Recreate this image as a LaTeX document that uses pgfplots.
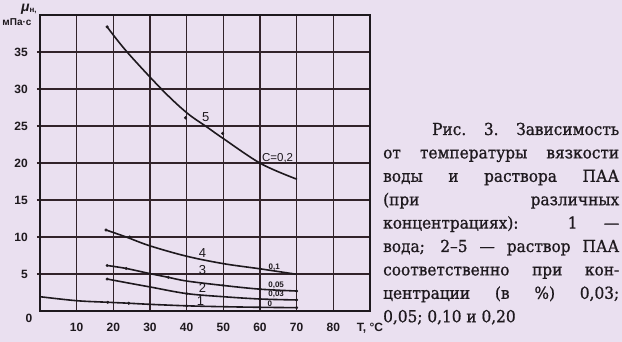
\documentclass[border=0pt]{standalone}
\usepackage{fontspec}
\setmainfont{Liberation Sans}
\newfontfamily\capfont[FakeStretch=0.93, FakeBold=0.9]{DejaVu Serif}
\usepackage{pgfplots}
\pgfplotsset{compat=1.18}
\definecolor{bg}{RGB}{234,224,240}
\definecolor{ink}{RGB}{30,25,30}
\definecolor{gridc}{RGB}{50,35,42}
\begin{document}
\begin{tikzpicture}[x=1pt,y=1pt]
\path[use as bounding box, fill=bg] (-40,-31) rectangle (582,311);
\begin{axis}[
  at={(0,0)}, anchor=south west,
  scale only axis, width=330pt, height=296pt,
  xmin=0, xmax=90, ymin=0, ymax=40,
  axis line style={ink, line width=1.3pt},
  xtick={10,20,...,90},
  xticklabels={10,20,30,40,50,60,70,80,{T, °C}},
  ytick={5,10,...,35},
  grid=major,
  major grid style={gridc, line width=1.2pt},
  major tick length=3pt,
  xtick style={draw=none},
  ytick style={gridc, line width=1.2pt, xshift=-3pt},
  ytick pos=left,
  /pgf/number format/assume math mode=true,
  ticklabel style={font=\bfseries\fontsize{12}{14}\selectfont, text=ink},
  xticklabel style={anchor=north, inner sep=0pt, yshift=-11.5pt},
  yticklabel style={anchor=east, inner sep=0pt, xshift=-12pt},
  clip=false,
]
% curve 5 (C=0,2)
\addplot[ink, line width=1.6pt, smooth, tension=0.55] coordinates {
 (18.3,38.4) (23.75,35.0) (33.3,29.9) (40,26.8) (45.7,24.8) (50,23.3) (60.3,19.9) (70.1,17.8)};
\addplot[only marks, mark=*, mark size=1.4pt, ink] coordinates {(18.3,38.4) (39.7,26.1) (49.8,24.0)};
% curve 4 (0,1)
\addplot[ink, line width=1.6pt, smooth, tension=0.55] coordinates {
 (18,10.95) (23.5,10.0) (30,8.8) (40,7.4) (50,6.4) (60,5.7) (70,4.96)};
\addplot[only marks, mark=*, mark size=1.3pt, ink] coordinates {(18,10.95) (24.5,10.0) (60,5.7)};
% curve 3 (0,05)
\addplot[ink, line width=1.6pt, smooth, tension=0.55] coordinates {
 (18.3,6.15) (23.5,5.75) (30,5.05) (35,4.55) (40,4.05) (50,3.45) (60,2.95) (70,2.7)};
\addplot[only marks, mark=*, mark size=1.3pt, ink] coordinates {(18.3,6.15) (23.5,5.75) (35,4.55) (50,3.45) (60,2.95) (70,2.7)};
% curve 2 (0,03)
\addplot[ink, line width=1.6pt, smooth, tension=0.55] coordinates {
 (18.3,4.32) (25,3.7) (30,3.25) (40,2.35) (50,1.93) (60,1.62) (70,1.49)};
\addplot[only marks, mark=*, mark size=1.3pt, ink] coordinates {(18.3,4.32) (40,2.35) (60,1.62) (70,1.49)};
% curve 1 (water)
\addplot[ink, line width=1.6pt, smooth, tension=0.55] coordinates {
 (0,1.93) (10,1.39) (18.5,1.18) (24.2,1.05) (30,0.9) (40,0.7) (50,0.58) (60,0.5) (70,0.45)};
\addplot[only marks, mark=*, mark size=1.3pt, ink] coordinates {(18.5,1.18) (24.2,1.05) (40,0.7) (60,0.5) (70,0.45)};
% curve labels
\node[text=ink, font=\fontsize{13}{14}\selectfont] at (axis cs:45.2,26.2) {5};
\node[text=ink, font=\fontsize{11.5}{13}\selectfont] at (axis cs:64.8,20.7) {C=0,2};
\node[text=ink, font=\fontsize{13}{14}\selectfont] at (axis cs:44.3,7.8) {4};
\node[text=ink, font=\fontsize{13}{14}\selectfont] at (axis cs:44.3,5.6) {3};
\node[text=ink, font=\fontsize{13}{14}\selectfont] at (axis cs:44.3,3.1) {2};
\node[text=ink, font=\fontsize{13}{14}\selectfont] at (axis cs:43.8,1.4) {1};
\node[text=ink, font=\bfseries\fontsize{8}{9}\selectfont] at (axis cs:63.9,5.9) {0,1};
\node[text=ink, font=\bfseries\fontsize{8}{9}\selectfont] at (axis cs:64.4,3.45) {0,05};
\node[text=ink, font=\bfseries\fontsize{8}{9}\selectfont] at (axis cs:64.4,2.25) {0,03};
\node[text=ink, font=\bfseries\fontsize{8}{9}\selectfont] at (axis cs:62.7,1.0) {0};
\end{axis}
% y axis label and zero
\node[text=ink, font=\bfseries\fontsize{12}{14}\selectfont] at (-11,-7.5) {0};
\node[text=ink, font=\bfseries\fontsize{14}{15}\selectfont, anchor=base west, inner sep=0pt] at (-19,299) {{\itshape μ}\raisebox{-1pt}{\fontsize{8}{9}\selectfont н,}};
\node[text=ink, font=\bfseries\fontsize{10}{11}\selectfont] at (-23,288.5) {мПа·с};
% caption
\node[anchor=base west, inner sep=0pt, text=ink] at (392,176) {\capfont\fontsize{16.5}{20}\selectfont\makebox[187pt][s]{Рис. 3. Зависимость}};
\node[anchor=base west, inner sep=0pt, text=ink] at (343,152.6) {\capfont\fontsize{16.5}{20}\selectfont\makebox[236pt][s]{от температуры вязкости}};
\node[anchor=base west, inner sep=0pt, text=ink] at (343,129.2) {\capfont\fontsize{16.5}{20}\selectfont\makebox[236pt][s]{воды и раствора ПАА}};
\node[anchor=base west, inner sep=0pt, text=ink] at (343,105.8) {\capfont\fontsize{16.5}{20}\selectfont\makebox[236pt][s]{(при различных}};
\node[anchor=base west, inner sep=0pt, text=ink] at (343,82.4) {\capfont\fontsize{16.5}{20}\selectfont\makebox[236pt][s]{концентрациях): 1 —}};
\node[anchor=base west, inner sep=0pt, text=ink] at (343,59.0) {\capfont\fontsize{16.5}{20}\selectfont\makebox[236pt][s]{вода; 2–5 — раствор ПАА}};
\node[anchor=base west, inner sep=0pt, text=ink] at (343,35.6) {\capfont\fontsize{16.5}{20}\selectfont\makebox[236pt][s]{соответственно при кон-}};
\node[anchor=base west, inner sep=0pt, text=ink] at (343,12.2) {\capfont\fontsize{16.5}{20}\selectfont\makebox[236pt][s]{центрации (в \%) 0,03;}};
\node[anchor=base west, inner sep=0pt, text=ink] at (343,-11.2) {\capfont\fontsize{16.5}{20}\selectfont 0,05; 0,10 и 0,20};
\end{tikzpicture}
\end{document}
